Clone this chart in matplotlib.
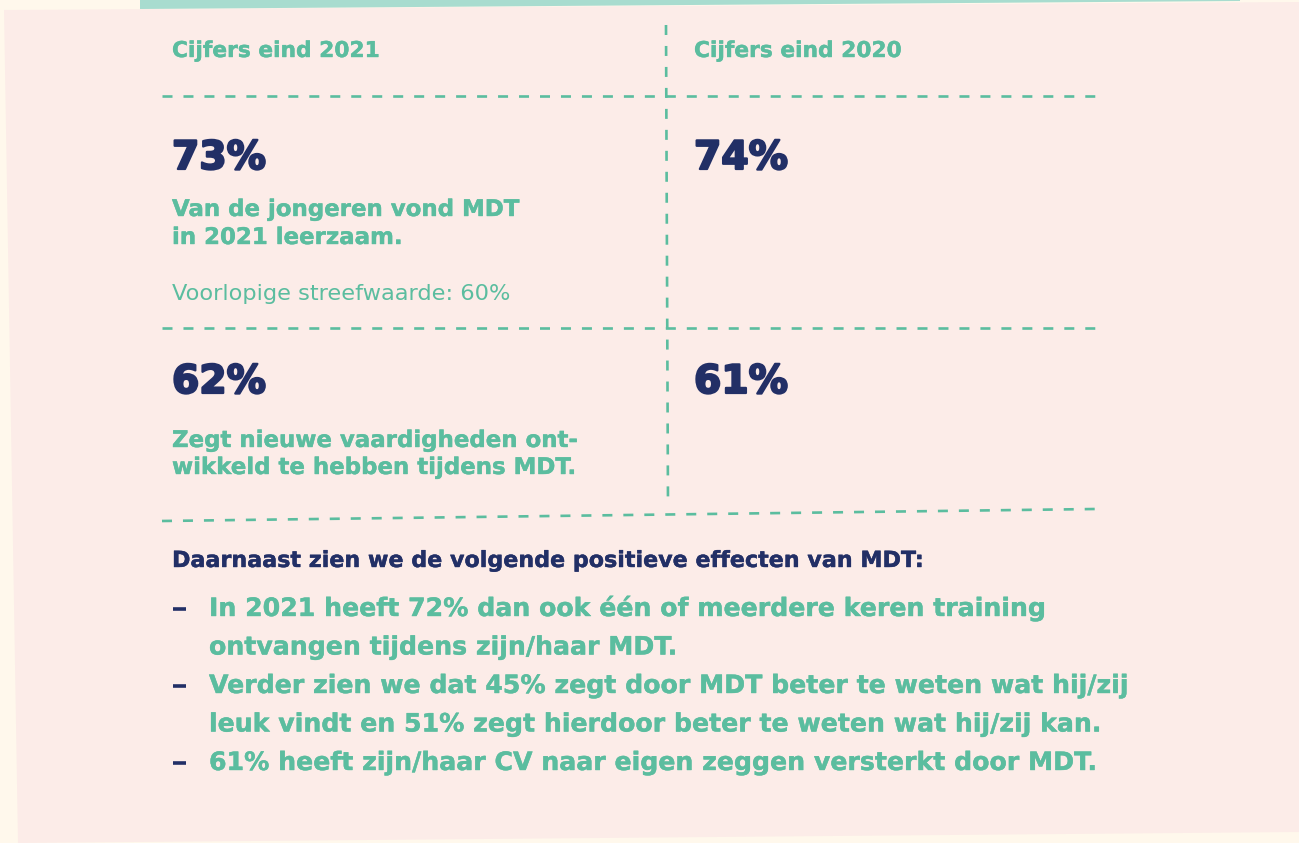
import matplotlib
matplotlib.use("Agg")
import matplotlib.pyplot as plt
from matplotlib.patches import Polygon
import matplotlib.patheffects as pe

# ---- content ----
col_headers = ["Cijfers eind 2021", "Cijfers eind 2020"]
row1_values = ["73%", "74%"]
row1_desc = ["Van de jongeren vond MDT", "in 2021 leerzaam."]
row1_note = "Voorlopige streefwaarde: 60%"
row2_values = ["62%", "61%"]
row2_desc = ["Zegt nieuwe vaardigheden ont-", "wikkeld te hebben tijdens MDT."]
intro = "Daarnaast zien we de volgende positieve effecten van MDT:"
bullets = [
    ["In 2021 heeft 72% dan ook één of meerdere keren training",
     "ontvangen tijdens zijn/haar MDT."],
    ["Verder zien we dat 45% zegt door MDT beter te weten wat hij/zij",
     "leuk vindt en 51% zegt hierdoor beter te weten wat hij/zij kan."],
    ["61% heeft zijn/haar CV naar eigen zeggen versterkt door MDT."],
]

TEAL = "#5bbd9f"
NAVY = "#222f66"
PINK = "#fcece8"
CREAM = "#fff8ec"
BAR = "#a8dccf"

plt.rcParams['lines.scale_dashes'] = False
W, H = 1299, 843
fig = plt.figure(figsize=(W / 100, H / 100), dpi=100)
fig.patch.set_facecolor(CREAM)
ax = fig.add_axes([0, 0, 1, 1])
ax.set_xlim(0, W)
ax.set_ylim(H, 0)
ax.axis("off")

ax.add_patch(Polygon([(4, 10), (1299, 2), (1299, 832), (18, 843)],
                     closed=True, facecolor=PINK, edgecolor="none", zorder=0))
ax.add_patch(Polygon([(140, 0), (1240, 0), (1240, 1), (140, 9)],
                     closed=True, facecolor=BAR, edgecolor="none", zorder=1))

fig.canvas.draw()
renderer = fig.canvas.get_renderer()


def fit_size(s, width, weight):
    t = ax.text(0, 0, s, fontsize=20, fontweight=weight, family="DejaVu Sans")
    w = t.get_window_extent(renderer).width
    t.remove()
    return 20 * width / w


def put(x, y, s, size, color, weight="bold", stroke=0.0):
    t = ax.text(x, y, s, fontsize=size, color=color, fontweight=weight,
                family="DejaVu Sans", ha="left", va="baseline", zorder=3)
    if stroke > 0:
        t.set_path_effects([pe.withStroke(linewidth=stroke, foreground=color)])


# dashed grid
dash = dict(color=TEAL, lw=1.9, dashes=(7.2, 7.9), solid_capstyle="butt", zorder=2)
ax.plot([162, 1095], [96, 96], **dash)
ax.plot([162, 1095], [328, 328], **dash)
ax.plot([162, 1095], [521, 509], **dash)
ax.plot([666, 668], [25, 506], **dash)

# headers
hs = fit_size(col_headers[0], 208, "bold")
put(172, 57, col_headers[0], hs, TEAL, stroke=0.3)
put(694, 57, col_headers[1], hs, TEAL, stroke=0.3)

# big numbers
ns = fit_size("73%", 94, "heavy")
for x, y, s in [(172, 169, row1_values[0]), (694, 169, row1_values[1]),
                (172, 393, row2_values[0]), (694, 393, row2_values[1])]:
    put(x, y, s, ns, NAVY, "heavy", stroke=1.6)

# descriptions
ds = fit_size(row2_desc[0], 406, "bold")
put(172, 216, row1_desc[0], ds, TEAL, stroke=0.3)
put(172, 244, row1_desc[1], ds, TEAL, stroke=0.3)
rs = fit_size(row1_note, 338, "normal")
put(172, 300, row1_note, rs, TEAL, "normal")
put(172, 447, row2_desc[0], ds, TEAL, stroke=0.3)
put(172, 474, row2_desc[1], ds, TEAL, stroke=0.3)

# intro
isz = fit_size(intro, 752, "bold")
put(172, 567, intro, isz, NAVY, stroke=0.3)

# bullets
bs = fit_size(bullets[1][1], 893, "bold")
y = 616
for b in bullets:
    ax.plot([173, 186], [y - 7, y - 7], color=NAVY, lw=2.6, solid_capstyle="butt", zorder=3)
    for line in b:
        put(209, y, line, bs, TEAL, stroke=0.3)
        y += 38.5

fig.savefig("out.png", dpi=100, facecolor=CREAM)
